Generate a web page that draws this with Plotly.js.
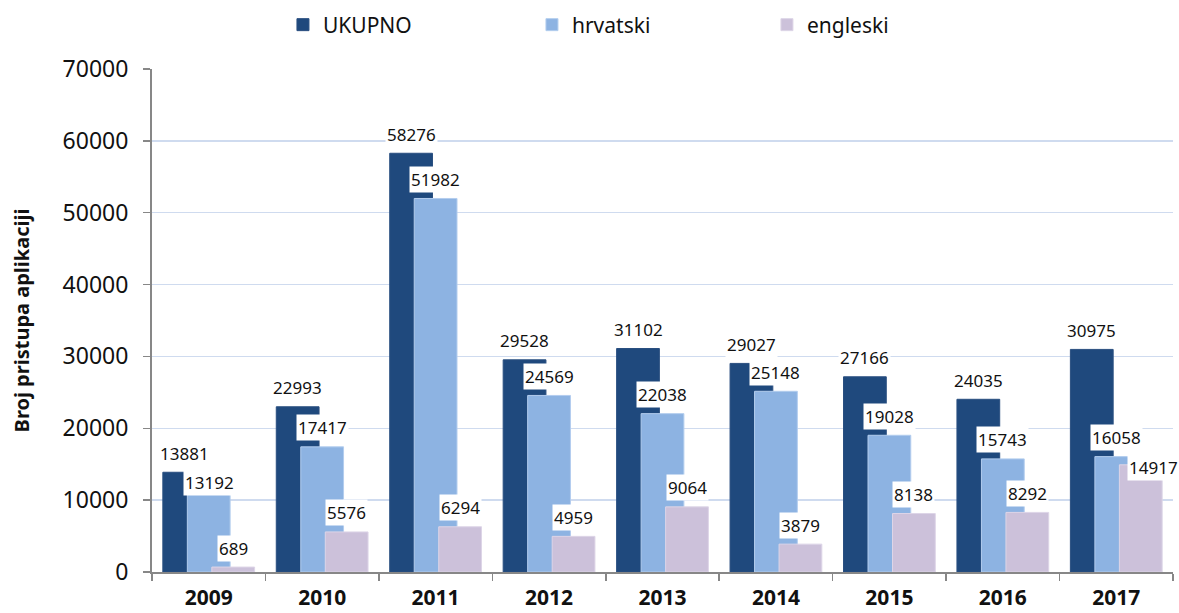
<!DOCTYPE html>
<html>
<head>
<meta charset="utf-8">
<script src="https://cdn.plot.ly/plotly-3.0.1.min.js"></script>
<style>
  html, body { margin: 0; padding: 0; background: #ffffff; }
  #chart { width: 1179px; height: 613px; }
</style>
</head>
<body>
<div id="chart"></div>
<script>
// ---- data ----
const years = ['2009', '2010', '2011', '2012', '2013', '2014', '2015', '2016', '2017'];
const ukupno = [13881, 22993, 58276, 29528, 31102, 29027, 27166, 24035, 30975];
const hrvatski = [13192, 17417, 51982, 24569, 22038, 25148, 19028, 15743, 16058];
const engleski = [689, 5576, 6294, 4959, 9064, 3879, 8138, 8292, 14917];
const seriesNames = ['UKUPNO', 'hrvatski', 'engleski'];
const yTickVals = [0, 10000, 20000, 30000, 40000, 50000, 60000, 70000];
const yTitle = 'Broj pristupa aplikaciji';

// ---- styling ----
const colors = ['#1F497D', '#8DB3E2', '#CCC1DA'];
const edgeColors = ['#2a4f80', '#b3cdee', '#ddd5e7'];
const barWidth = 0.377;
const step = 0.216;
const font = 'Noto Sans, Open Sans, sans-serif';
const legendX = [0.2400, 0.4512, 0.6505];

const seriesValues = [ukupno, hrvatski, engleski];
const traces = seriesValues.map((vals, k) => ({
  type: 'bar',
  name: seriesNames[k],
  x: years,
  y: vals,
  width: barWidth,
  offset: (k - 1) * step - barWidth / 2,
  marker: { color: colors[k], line: { color: edgeColors[k], width: 1 } },
  legend: k === 0 ? 'legend' : 'legend' + (k + 1),
  hovertemplate: '%{x}: %{y}<extra>' + seriesNames[k] + '</extra>'
}));

// label nudges (pixels) for labels that were moved by hand in the original
const defaultLift = 19;
const labelNudge = {
  '1-0': { dx: 1, dy: -5 },
  '2-8': { dx: 13, dy: -3 }
};

const annotations = [];
seriesValues.forEach((vals, k) => {
  vals.forEach((v, i) => {
    const n = labelNudge[k + '-' + i] || { dx: 0, dy: defaultLift };
    annotations.push({
      x: i + (k - 1) * step,
      y: v,
      xref: 'x', yref: 'y',
      text: String(v),
      showarrow: false,
      xshift: n.dx,
      yshift: n.dy,
      bgcolor: '#ffffff',
      borderpad: 1,
      font: { family: font, size: 17, color: '#111111' }
    });
  });
});

function legendBox(x) {
  return {
    orientation: 'h',
    xref: 'container', yref: 'container',
    x: x, y: 1 - 25 / 613,
    xanchor: 'left', yanchor: 'middle',
    bgcolor: 'rgba(0,0,0,0)',
    borderwidth: 0,
    font: { family: font, size: 21, color: '#111111' }
  };
}

const layout = {
  width: 1179,
  height: 613,
  margin: { l: 152, r: 6, t: 69, b: 41 },
  paper_bgcolor: '#ffffff',
  plot_bgcolor: '#ffffff',
  barmode: 'overlay',
  showlegend: true,
  legend: legendBox(legendX[0]),
  legend2: legendBox(legendX[1]),
  legend3: legendBox(legendX[2]),
  xaxis: {
    type: 'category',
    range: [-0.5, years.length - 0.5],
    automargin: false,
    showline: true,
    linecolor: '#878787',
    linewidth: 2,
    ticks: 'outside',
    tickson: 'boundaries',
    ticklen: 7,
    tickcolor: '#878787',
    tickwidth: 1.5,
    showgrid: false,
    zeroline: false,
    ticklabelstandoff: 6,
    tickfont: { family: font, size: 21, color: '#111111', weight: 700 }
  },
  yaxis: {
    range: [0, 70000],
    automargin: false,
    tickvals: yTickVals,
    ticktext: yTickVals.map(String),
    showline: true,
    linecolor: '#878787',
    linewidth: 2,
    ticks: 'outside',
    ticklen: 7,
    tickcolor: '#878787',
    tickwidth: 1.5,
    gridcolor: '#cfdbef',
    gridwidth: 1.5,
    zeroline: false,
    ticklabelstandoff: 10,
    tickfont: { family: font, size: 23, color: '#111111' },
    title: {
      text: yTitle,
      standoff: 28,
      font: { family: font, size: 20, color: '#111111', weight: 700 }
    }
  },
  annotations: annotations
};

Plotly.newPlot('chart', traces, layout, { displayModeBar: false, staticPlot: true });
</script>
</body>
</html>
